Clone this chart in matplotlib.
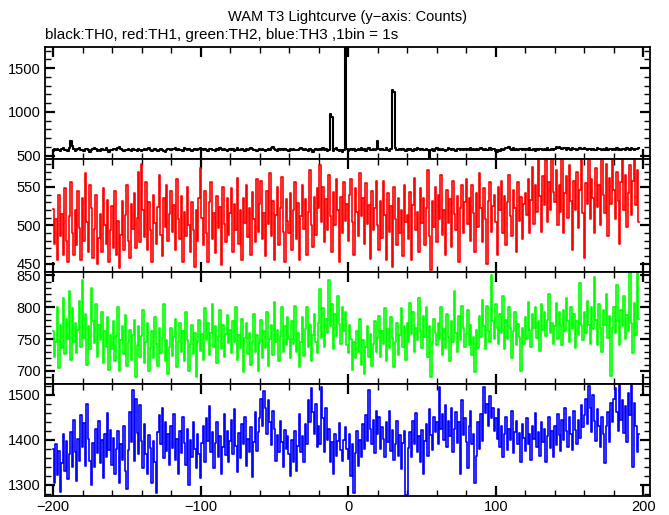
import numpy as np
import matplotlib
matplotlib.use("Agg")
import matplotlib.pyplot as plt
from matplotlib.ticker import MultipleLocator

plt.rcParams['font.family'] = ['Liberation Sans', 'DejaVu Sans']

# 1 s bins starting at t = -200 s
t_start = -200

th0 = [555, 572, 560, 578, 566, 549, 574, 583, 561, 570, 557, 590, 668, 612, 581, 559, 568, 575, 587, 563,
       570, 556, 582, 575, 561, 548, 566, 579, 590, 572, 558, 567, 553, 576, 569, 561, 584, 571, 547, 565,
       560, 574, 581, 563, 592, 602, 577, 566, 553, 571, 562, 578, 569, 556, 573, 560, 567, 558, 575, 563,
       552, 568, 573, 561, 579, 584, 570, 557, 566, 575, 562, 549, 571, 580, 568, 559, 545, 563, 572, 577,
       566, 581, 574, 590, 569, 577, 562, 571, 558, 583, 576, 565, 572, 561, 554, 567, 575, 570, 563, 579,
       588, 573, 561, 576, 569, 555, 572, 581, 564, 570, 559, 575, 568, 586, 573, 561, 579, 567, 556, 571,
       577, 564, 572, 550, 566, 583, 571, 560, 576, 569, 557, 574, 563, 581, 592, 575, 566, 571, 559, 568,
       574, 562, 580, 567, 553, 571, 578, 564, 585, 598, 576, 566, 558, 572, 561, 579, 568, 574, 563, 570,
       557, 575, 569, 582, 566, 571, 560, 577, 588, 572, 565, 579, 568, 556, 573, 562, 548, 566, 575, 569,
       561, 578, 571, 584, 566, 573, 559, 568, 975, 940, 552, 573, 590, 566, 558, 571, 545, 563, 1800, 574,
       556, 568, 581, 562, 575, 549, 567, 578, 570, 584, 563, 572, 558, 576, 591, 569, 561, 577, 566, 573,
       668, 580, 565, 574, 560, 571, 583, 567, 556, 578, 1250, 1232, 592, 571, 566, 579, 562, 574, 568, 559,
       575, 563, 581, 570, 557, 572, 566, 589, 574, 561, 578, 567, 571, 580, 563, 470, 569, 576, 558, 572,
       583, 566, 574, 561, 579, 570, 555, 568, 586, 572, 563, 577, 569, 558, 574, 581, 566, 572, 560, 575,
       568, 579, 563, 585, 571, 576, 560, 573, 566, 582, 590, 575, 568, 579, 563, 571, 584, 567, 574, 580,
       552, 538, 561, 556, 572, 566, 578, 590, 583, 597, 579, 571, 585, 568, 576, 562, 574, 581, 567, 573,
       560, 576, 569, 583, 571, 564, 578, 557, 572, 566, 580, 573, 561, 577, 569, 584, 571, 563, 575, 568,
       579, 595, 586, 601, 588, 575, 592, 583, 570, 587, 578, 566, 584, 573, 580, 569, 576, 591, 582, 574,
       588, 576, 569, 582, 574, 563, 579, 571, 567, 585, 573, 580, 562, 576, 571, 588, 565, 578, 572, 569,
       575, 567, 583, 571, 578, 564, 580, 573, 569, 586, 577, 571, 584, 575, 568, 581, 576, 588]

th1 = [521, 476, 508, 455, 540, 486, 515, 462, 548, 480, 452, 512, 556, 490, 461, 520, 474, 545, 497, 455,
       535, 480, 568, 505, 466, 552, 523, 458, 495, 540, 450, 484, 515, 466, 548, 500, 476, 533, 453, 494,
       525, 470, 545, 462, 506, 445, 488, 532, 468, 514, 553, 480, 458, 528, 495, 542, 471, 510, 570, 478,
       580, 520, 485, 556, 468, 530, 494, 452, 540, 503, 476, 524, 566, 488, 460, 536, 498, 552, 480, 515,
       545, 492, 526, 468, 560, 508, 482, 538, 452, 518, 486, 550, 501, 466, 530, 494, 446, 520, 480, 536,
       574, 510, 474, 545, 490, 452, 530, 556, 482, 516, 464, 538, 496, 524, 448, 550, 502, 478, 535, 488,
       516, 548, 466, 528, 494, 562, 476, 520, 455, 536, 503, 552, 485, 522, 462, 544, 508, 478, 560, 492,
       528, 558, 482, 516, 460, 545, 502, 568, 486, 532, 455, 514, 550, 474, 523, 563, 492, 452, 534, 506,
       490, 542, 468, 520, 557, 482, 529, 455, 512, 552, 495, 534, 462, 518, 572, 501, 472, 537, 488, 548,
       522, 578, 504, 550, 478, 534, 494, 565, 512, 465, 543, 500, 560, 520, 452, 537, 490, 556, 506, 528,
       480, 540, 560, 505, 462, 548, 518, 486, 568, 512, 535, 476, 555, 502, 526, 456, 545, 494, 522, 558,
       500, 468, 532, 484, 558, 514, 455, 542, 492, 525, 446, 550, 508, 474, 536, 490, 520, 460, 553, 504,
       514, 482, 543, 455, 526, 562, 494, 518, 465, 548, 503, 536, 474, 522, 572, 486, 442, 532, 498, 550,
       478, 540, 508, 565, 488, 520, 462, 546, 503, 534, 472, 558, 515, 494, 538, 452, 523, 552, 490, 530,
       560, 502, 535, 480, 552, 516, 466, 542, 498, 568, 522, 478, 548, 508, 450, 532, 556, 492, 525, 540,
       504, 462, 550, 520, 558, 490, 538, 474, 530, 566, 512, 486, 546, 522, 466, 556, 506, 537, 482, 528,
       542, 514, 560, 490, 533, 576, 502, 552, 518, 592, 538, 492, 564, 526, 585, 505, 556, 520, 595, 544,
       530, 572, 500, 552, 518, 588, 490, 542, 564, 510, 578, 532, 468, 558, 520, 569, 496, 546, 590, 516,
       458, 555, 528, 595, 508, 560, 536, 490, 574, 524, 552, 500, 596, 540, 516, 580, 486, 562, 528, 588,
       546, 508, 570, 532, 476, 556, 592, 520, 566, 498, 542, 578, 514, 558, 598, 526, 572, 505]

th2 = [762, 722, 745, 800, 705, 772, 736, 815, 726, 782, 750, 825, 718, 798, 745, 775, 728, 765, 810, 738,
       842, 752, 790, 710, 770, 735, 830, 778, 744, 805, 722, 772, 748, 792, 712, 762, 738, 785, 702, 756,
       735, 778, 716, 755, 800, 700, 748, 770, 726, 788, 708, 745, 764, 718, 756, 780, 690, 740, 770, 722,
       755, 795, 712, 745, 775, 700, 736, 762, 720, 785, 742, 708, 768, 728, 752, 805, 716, 748, 695, 738,
       768, 724, 754, 782, 706, 746, 775, 730, 762, 716, 792, 748, 700, 742, 772, 726, 760, 690, 745, 780,
       732, 758, 718, 798, 748, 776, 725, 760, 805, 738, 770, 712, 754, 795, 735, 772, 722, 758, 788, 744,
       765, 728, 778, 745, 800, 718, 756, 736, 782, 698, 752, 775, 726, 760, 710, 746, 790, 730, 756, 700,
       744, 780, 720, 762, 736, 792, 708, 750, 772, 725, 808, 746, 765, 716, 755, 800, 730, 770, 740, 785,
       750, 720, 778, 742, 802, 730, 760, 706, 746, 784, 724, 766, 800, 738, 772, 716, 756, 790, 746, 728,
       776, 828, 752, 798, 738, 782, 760, 842, 770, 805, 735, 790, 755, 818, 774, 742, 800, 762, 792, 740,
       728, 772, 750, 702, 745, 720, 762, 730, 782, 710, 748, 695, 738, 770, 722, 758, 708, 742, 778, 730,
       752, 786, 722, 762, 742, 798, 715, 766, 736, 785, 752, 706, 746, 775, 725, 757, 798, 738, 770, 718,
       776, 745, 806, 758, 792, 730, 768, 748, 815, 763, 736, 786, 753, 800, 722, 770, 690, 746, 782, 760,
       740, 775, 750, 800, 725, 766, 736, 790, 754, 715, 778, 745, 825, 760, 730, 786, 748, 802, 768, 738,
       758, 795, 740, 772, 725, 754, 698, 765, 736, 786, 754, 812, 770, 734, 802, 762, 745, 850, 778, 750,
       805, 768, 742, 790, 760, 818, 735, 780, 750, 800, 768, 720, 762, 792, 740, 774, 754, 700, 768, 742,
       784, 750, 808, 764, 738, 790, 768, 800, 752, 778, 732, 805, 765, 792, 755, 780, 820, 760, 775, 742,
       770, 806, 750, 792, 772, 740, 796, 762, 815, 778, 745, 800, 766, 790, 736, 778, 756, 838, 772, 748,
       792, 760, 810, 772, 742, 800, 766, 848, 780, 740, 805, 768, 730, 796, 772, 820, 752, 786, 692, 768,
       800, 760, 835, 778, 740, 795, 770, 818, 750, 788, 762, 856, 776, 728, 806, 756, 860, 782]

th3 = [1380, 1305, 1390, 1322, 1376, 1285, 1348, 1412, 1330, 1398, 1312, 1368, 1418, 1340, 1445, 1372, 1308, 1402, 1352, 1455,
       1385, 1438, 1342, 1480, 1402, 1354, 1300, 1392, 1340, 1425, 1370, 1442, 1348, 1400, 1316, 1412, 1362, 1460, 1378, 1422,
       1345, 1405, 1325, 1380, 1420, 1305, 1390, 1355, 1432, 1330, 1290, 1378, 1462, 1395, 1512, 1352, 1490, 1415, 1368, 1478,
       1398, 1338, 1435, 1368, 1325, 1410, 1382, 1305, 1398, 1350, 1282, 1418, 1455, 1390, 1470, 1360, 1440, 1375, 1412, 1345,
       1430, 1382, 1458, 1355, 1402, 1325, 1420, 1370, 1452, 1392, 1345, 1425, 1300, 1400, 1362, 1440, 1380, 1338, 1412, 1368,
       1315, 1392, 1432, 1350, 1448, 1398, 1475, 1372, 1418, 1338, 1392, 1440, 1362, 1408, 1325, 1385, 1458, 1366, 1420, 1350,
       1398, 1445, 1368, 1468, 1386, 1328, 1415, 1360, 1435, 1390, 1452, 1342, 1402, 1372, 1428, 1318, 1395, 1462, 1375, 1418,
       1448, 1492, 1430, 1508, 1470, 1412, 1488, 1440, 1388, 1465, 1425, 1352, 1410, 1372, 1442, 1395, 1340, 1422, 1380, 1408,
       1368, 1320, 1400, 1350, 1420, 1330, 1386, 1458, 1372, 1408, 1350, 1436, 1390, 1488, 1440, 1515, 1462, 1412, 1480, 1385,
       1432, 1390, 1518, 1448, 1372, 1472, 1400, 1425, 1350, 1395, 1325, 1412, 1365, 1398, 1438, 1378, 1352, 1400, 1428, 1380,
       1358, 1412, 1320, 1390, 1282, 1370, 1420, 1342, 1400, 1362, 1435, 1380, 1456, 1398, 1512, 1425, 1390, 1445, 1370, 1465,
       1412, 1450, 1380, 1428, 1402, 1362, 1440, 1395, 1465, 1375, 1422, 1355, 1390, 1442, 1365, 1410, 1335, 1392, 1420, 1277,
       1276, 1382, 1418, 1362, 1442, 1390, 1460, 1372, 1408, 1350, 1422, 1325, 1398, 1435, 1365, 1468, 1410, 1378, 1452, 1418,
       1440, 1390, 1518, 1425, 1458, 1400, 1478, 1385, 1442, 1408, 1470, 1372, 1425, 1462, 1392, 1440, 1325, 1488, 1410, 1448,
       1395, 1338, 1432, 1465, 1390, 1412, 1305, 1365, 1440, 1380, 1458, 1398, 1518, 1460, 1480, 1432, 1498, 1448, 1472, 1420,
       1448, 1402, 1468, 1385, 1430, 1362, 1412, 1452, 1378, 1425, 1400, 1465, 1370, 1418, 1442, 1390, 1415, 1350, 1435, 1405,
       1375, 1448, 1390, 1412, 1355, 1432, 1402, 1460, 1385, 1418, 1365, 1440, 1395, 1425, 1350, 1408, 1452, 1382, 1420, 1362,
       1432, 1388, 1458, 1410, 1375, 1445, 1400, 1472, 1420, 1385, 1450, 1412, 1378, 1465, 1422, 1390, 1445, 1405, 1478, 1428,
       1455, 1490, 1435, 1520, 1472, 1418, 1500, 1442, 1398, 1468, 1430, 1385, 1450, 1412, 1348, 1432, 1462, 1395, 1482, 1440,
       1492, 1515, 1462, 1420, 1522, 1445, 1488, 1415, 1475, 1395, 1505, 1455, 1525, 1340, 1482, 1430, 1372, 1412]

series = [th0, th1, th2, th3]
colors = ['black', '#ff0000', '#00ff00', '#0000ff']
widths = [1.5, 1.2, 1.2, 1.2]
ylims = [(460, 1740), (440, 586), (680, 856), (1275, 1525)]
yticks = [[500, 1000, 1500], [450, 500, 550], [700, 750, 800, 850], [1300, 1400, 1500]]
yminor = [100, 10, 10, 20]

fig = plt.figure(figsize=(6.69, 5.15), dpi=100)
gs = fig.add_gridspec(4, 1, left=0.0673, right=0.9716, top=0.9087, bottom=0.0369, hspace=0)

for i in range(4):
  ax = fig.add_subplot(gs[i])
  y = np.array(series[i])
  t = t_start + np.arange(len(y))
  ax.plot(t, y, color=colors[i], lw=widths[i], drawstyle='steps-mid')
  ax.set_xlim(-205.5, 204.5)
  ax.set_ylim(*ylims[i])
  ax.set_yticks(yticks[i])
  ax.yaxis.set_minor_locator(MultipleLocator(yminor[i]))
  ax.xaxis.set_major_locator(MultipleLocator(100))
  ax.xaxis.set_minor_locator(MultipleLocator(20))
  ax.tick_params(which='both', direction='in', top=True, right=True, labelsize=10.5, pad=3)
  ax.tick_params(which='major', length=7, width=1.6)
  ax.tick_params(which='minor', length=4, width=1)
  for s in ax.spines.values():
    s.set_linewidth(1.3)
  if i < 3:
    ax.set_xticklabels([])

fig.text(0.519, 0.967, 'WAM T3 Lightcurve (y\u2212axis: Counts)', ha='center', va='center', fontsize=10.5)
fig.text(0.0673, 0.932, 'black:TH0, red:TH1, green:TH2, blue:TH3 ,1bin = 1s', ha='left', va='center', fontsize=11)

plt.savefig('out.png', dpi=100)
